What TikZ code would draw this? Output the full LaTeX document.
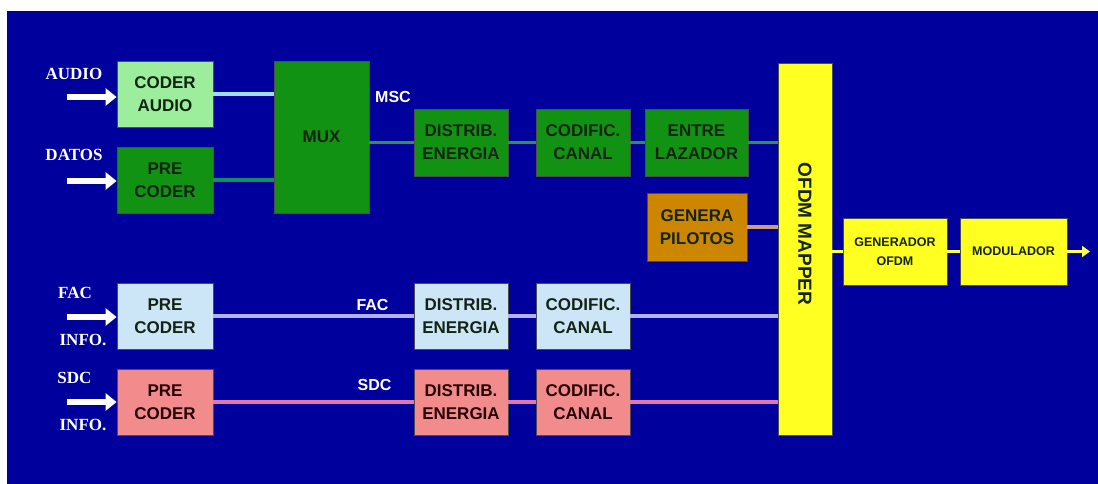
\documentclass[tikz,border=0pt]{standalone}
\usepackage{fontspec}
\setmainfont{Liberation Sans}
\newfontfamily\labelfont{Liberation Serif}
\usetikzlibrary{arrows.meta,positioning}
\definecolor{bg}{HTML}{00009C}
\definecolor{lgreen}{HTML}{9CEE9C}
\definecolor{dgreen}{HTML}{129212}
\definecolor{lblue}{HTML}{CCE6F8}
\definecolor{salmon}{HTML}{F28C8C}
\definecolor{pilot}{HTML}{CC8600}
\definecolor{yel}{HTML}{FFFF22}
\definecolor{lcyan}{HTML}{9CDDEE}
\definecolor{tealg}{HTML}{139060}
\definecolor{chain}{HTML}{22994A}
\definecolor{lav}{HTML}{B0B0FF}
\definecolor{pinkl}{HTML}{E078B0}
\definecolor{tan}{HTML}{C8A080}
\definecolor{txt}{HTML}{142414}
\tikzset{
  blk/.style={draw=black!70, line width=0.8pt, rectangle, align=center, inner sep=0pt,
    font=\bfseries\fontsize{17}{23}\selectfont, text=txt},
  small/.style={font=\bfseries\fontsize{12.5}{19}\selectfont},
  lab/.style={text=white, font=\labelfont\bfseries\fontsize{17}{20}\selectfont, inner sep=0pt},
  slab/.style={text=white, font=\bfseries\fontsize{16}{20}\selectfont, inner sep=0pt},
  conn/.style={line width=3.5pt},
  inarrow/.style={white, line width=6pt, -{Triangle[length=11pt,width=17pt]}},
}
\begin{document}
\begin{tikzpicture}[x=1pt,y=-1pt]
\useasboundingbox (0,0) rectangle (1098,484);
\fill[white] (0,0) rectangle (1098,484);
\fill[bg] (7,11) rectangle (1098,484);

% top branch
\node[blk, fill=lgreen, minimum width=96pt, minimum height=66pt] (ca) at (165,94) {CODER\\AUDIO};
\node[blk, fill=dgreen, minimum width=96pt, minimum height=66pt] (pd) at (165,180) {PRE\\CODER};
\node[blk, fill=dgreen, minimum width=95pt, minimum height=152pt] (mux) at (321.5,137) {MUX};
\node[blk, fill=dgreen, minimum width=94pt, minimum height=67pt] (de) at (461,142.5) {DISTRIB.\\ENERGIA};
\node[blk, fill=dgreen, minimum width=94pt, minimum height=67pt] (cc) at (583,142.5) {CODIFIC.\\CANAL};
\node[blk, fill=dgreen, minimum width=103pt, minimum height=67pt] (el) at (696.5,142.5) {ENTRE\\LAZADOR};
\node[blk, fill=pilot, minimum width=100pt, minimum height=68pt] (gp) at (697,227) {GENERA\\PILOTOS};

% mapper and output
\node[blk, fill=yel, minimum width=54pt, minimum height=372pt] (om) at (805,249) {};
\node[rotate=-90, font=\bfseries\fontsize{19}{20}\selectfont, text=txt] (omt) at (805,234) {OFDM MAPPER};
\node[blk, small, fill=yel, minimum width=104pt, minimum height=67pt] (go) at (895,251.5) {GENERADOR\\OFDM};
\node[blk, small, fill=yel, minimum width=107pt, minimum height=67pt] (mod) at (1013.5,251.5) {MODULADOR};

% FAC branch
\node[blk, fill=lblue, minimum width=96pt, minimum height=66pt] (fpc) at (165,316) {PRE\\CODER};
\node[blk, fill=lblue, minimum width=94pt, minimum height=66pt] (fde) at (461,316) {DISTRIB.\\ENERGIA};
\node[blk, fill=lblue, minimum width=94pt, minimum height=66pt] (fcc) at (583,316) {CODIFIC.\\CANAL};

% SDC branch
\node[blk, fill=salmon, minimum width=96pt, minimum height=66pt, text=black!85!red] (spc) at (165,402) {PRE\\CODER};
\node[blk, fill=salmon, minimum width=94pt, minimum height=66pt, text=black!85!red] (sde) at (461,402) {DISTRIB.\\ENERGIA};
\node[blk, fill=salmon, minimum width=94pt, minimum height=66pt, text=black!85!red] (scc) at (583,402) {CODIFIC.\\CANAL};

% connectors
\draw[conn, lcyan] (ca.east) -- (ca.east -| mux.west);
\draw[conn, tealg] (pd.east) -- (pd.east -| mux.west);
\draw[conn, chain] (mux.east |- de.west) -- (de.west);
\draw[conn, chain] (de.east) -- (cc.west);
\draw[conn, chain] (cc.east) -- (el.west);
\draw[conn, chain] (el.east) -- (el.east -| om.west);
\draw[conn, tan] (gp.east) -- (gp.east -| om.west);
\draw[conn, lav] (fpc.east) -- (fde.west);
\draw[conn, lav] (fde.east) -- (fcc.west);
\draw[conn, lav] (fcc.east) -- (fcc.east -| om.west);
\draw[conn, pinkl] (spc.east) -- (sde.west);
\draw[conn, pinkl] (sde.east) -- (scc.west);
\draw[conn, pinkl] (scc.east) -- (scc.east -| om.west);
\draw[conn, yel!80!white] (om.east |- go.west) -- (go.west);
\draw[conn, yel!80!white] (go.east) -- (mod.west);
\coordinate (outp) at (1090,251.5);
\draw[yel!80!white, line width=3.5pt, -{Triangle[length=8pt,width=11pt]}] (mod.east) -- (outp);

% inputs
\coordinate (ina) at (67,97);
\coordinate (ind) at (67,181);
\coordinate (inf) at (67,317);
\coordinate (ins) at (67,402);
\draw[inarrow] (ina) -- (ina -| ca.west);
\draw[inarrow] (ind) -- (ind -| pd.west);
\draw[inarrow] (inf) -- (inf -| fpc.west);
\draw[inarrow] (ins) -- (ins -| spc.west);

% labels
\node[lab] (laudio) at (74,74) {AUDIO};
\node[lab] (ldatos) at (74,155) {DATOS};
\node[lab] (lfac) at (75,293) {FAC};
\node[lab] (linfo1) at (83,340) {INFO.};
\node[lab] (lsdc) at (74.5,378) {SDC};
\node[lab] (linfo2) at (83,425) {INFO.};
\node[slab] (lmsc) at (393,97) {MSC};
\node[slab] (lfac2) at (372.5,305) {FAC};
\node[slab] (lsdc2) at (374.5,385) {SDC};
\end{tikzpicture}
\end{document}
